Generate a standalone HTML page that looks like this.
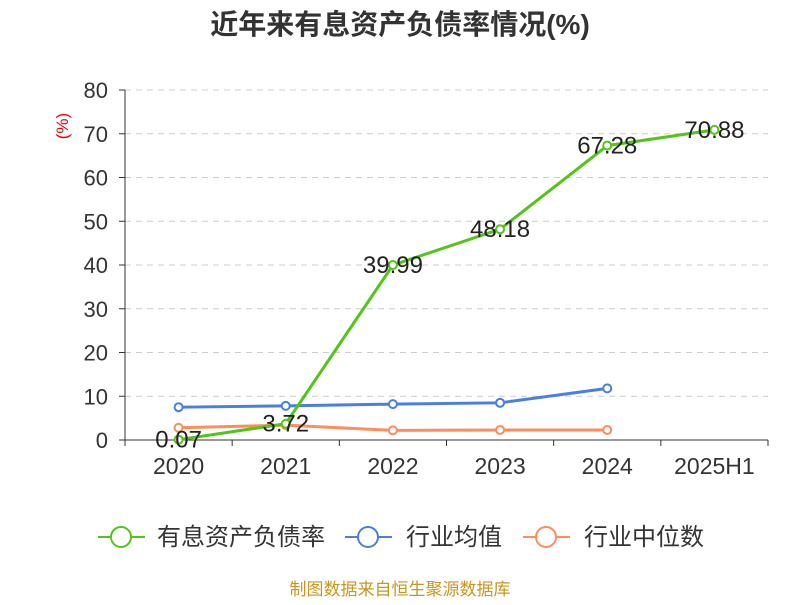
<!DOCTYPE html>
<html><head><meta charset="utf-8">
<style>
body{margin:0;background:#fff;width:800px;height:600px;overflow:hidden;font-family:"Liberation Sans","Noto Sans CJK SC",sans-serif}
</style></head>
<body>
<svg id="chart" width="800" height="600" xmlns="http://www.w3.org/2000/svg" font-family="Liberation Sans, Noto Sans CJK SC, sans-serif">
<text x="400" y="34" text-anchor="middle" font-size="28" font-weight="bold" fill="#333">近年来有息资产负债率情况(%)</text>
<text x="68" y="126" font-size="17" fill="#e00" transform="rotate(-90 68 126)" text-anchor="middle">(%)</text>
<g id="grid"></g><g id="axes"></g><g id="series"></g>
<g>
<g><line x1="98" y1="537" x2="145" y2="537" stroke="#52c41a" stroke-width="2"/><circle cx="121" cy="537" r="10" fill="#fff" stroke="#52c41a" stroke-width="2"/><text x="157" y="545" font-size="24" fill="#333">有息资产负债率</text></g>
<g><line x1="345" y1="537" x2="392" y2="537" stroke="#4a7fe0" stroke-width="2"/><circle cx="368" cy="537" r="10" fill="#fff" stroke="#4a7fe0" stroke-width="2"/><text x="406" y="545" font-size="24" fill="#333">行业均值</text></g>
<g><line x1="523" y1="537" x2="570" y2="537" stroke="#ff8c5a" stroke-width="2"/><circle cx="546" cy="537" r="10" fill="#fff" stroke="#ff8c5a" stroke-width="2"/><text x="584" y="545" font-size="24" fill="#333">行业中位数</text></g>
</g>
<text x="400" y="595" text-anchor="middle" font-size="17" fill="#c8961e">制图数据来自恒生聚源数据库</text>
</svg>
<script>
const categories=["2020","2021","2022","2023","2024","2025H1"];
const debtRatio=[0.07,3.72,39.99,48.18,67.28,70.88];
const industryAvg=[7.5,7.8,8.2,8.5,11.8];
const industryMedian=[2.8,3.4,2.2,2.3,2.3];
const yTicks=[0,10,20,30,40,50,60,70,80];
const NS="http://www.w3.org/2000/svg";
const L=125,R=768,T=90,B=440,yMax=80;
const bw=(R-L)/categories.length;
const xs=i=>L+bw*(i+0.5);
const ys=v=>B-(v/yMax)*(B-T);
function mk(tag,attrs,parent){const e=document.createElementNS(NS,tag);for(const k in attrs)e.setAttribute(k,attrs[k]);parent.appendChild(e);return e;}
const grid=document.getElementById('grid'),axes=document.getElementById('axes'),ser=document.getElementById('series');
yTicks.forEach(t=>{
 if(t>0){const g=mk('line',{x1:L,x2:R,y1:ys(t),y2:ys(t),stroke:'#ccc','stroke-dasharray':'6,5'},grid);
 
 }
 const tk=mk('line',{x1:L-6,x2:L,y1:ys(t),y2:ys(t),stroke:'#333'},axes);
 
 
 const tx=mk('text',{x:L-17,y:ys(t)+8,'text-anchor':'end','font-size':22,fill:'#333'},axes);tx.textContent=t;
 
 
});
const ya=mk('line',{x1:L,x2:L,y1:T,y2:B,stroke:'#333'},axes);


const xa=mk('line',{x1:L,x2:R,y1:B,y2:B,stroke:'#333'},axes);


for(let i=0;i<=categories.length;i++){const t=mk('line',{x1:L+bw*i,x2:L+bw*i,y1:B,y2:B+6,stroke:'#333'},axes);
 
 }
categories.forEach((c,i)=>{const t=mk('text',{x:xs(i),y:B+34,'text-anchor':'middle','font-size':23,fill:'#333'},axes);t.textContent=c;
 
 });
function series(vals,color,name,labels){
 const p=mk('polyline',{points:vals.map((v,i)=>xs(i)+','+ys(v)).join(' '),fill:'none',stroke:color,'stroke-width':3,'stroke-linejoin':'round'},ser);
 
 
 vals.forEach((v,i)=>{const c=mk('circle',{cx:xs(i),cy:ys(v),r:4,fill:'#fff',stroke:color,'stroke-width':2},ser);
  
  
  if(labels){const t=mk('text',{x:xs(i),y:ys(v)+8,'text-anchor':'middle','font-size':24,fill:'#222'},ser);t.textContent=v.toFixed(2);
  
  }
 });
}
series(industryMedian,'#ff8c5a','industry-median',false);
series(industryAvg,'#4a7fe0','industry-average',false);
series(debtRatio,'#52c41a','debt-ratio',true);
</script>
</body></html>
